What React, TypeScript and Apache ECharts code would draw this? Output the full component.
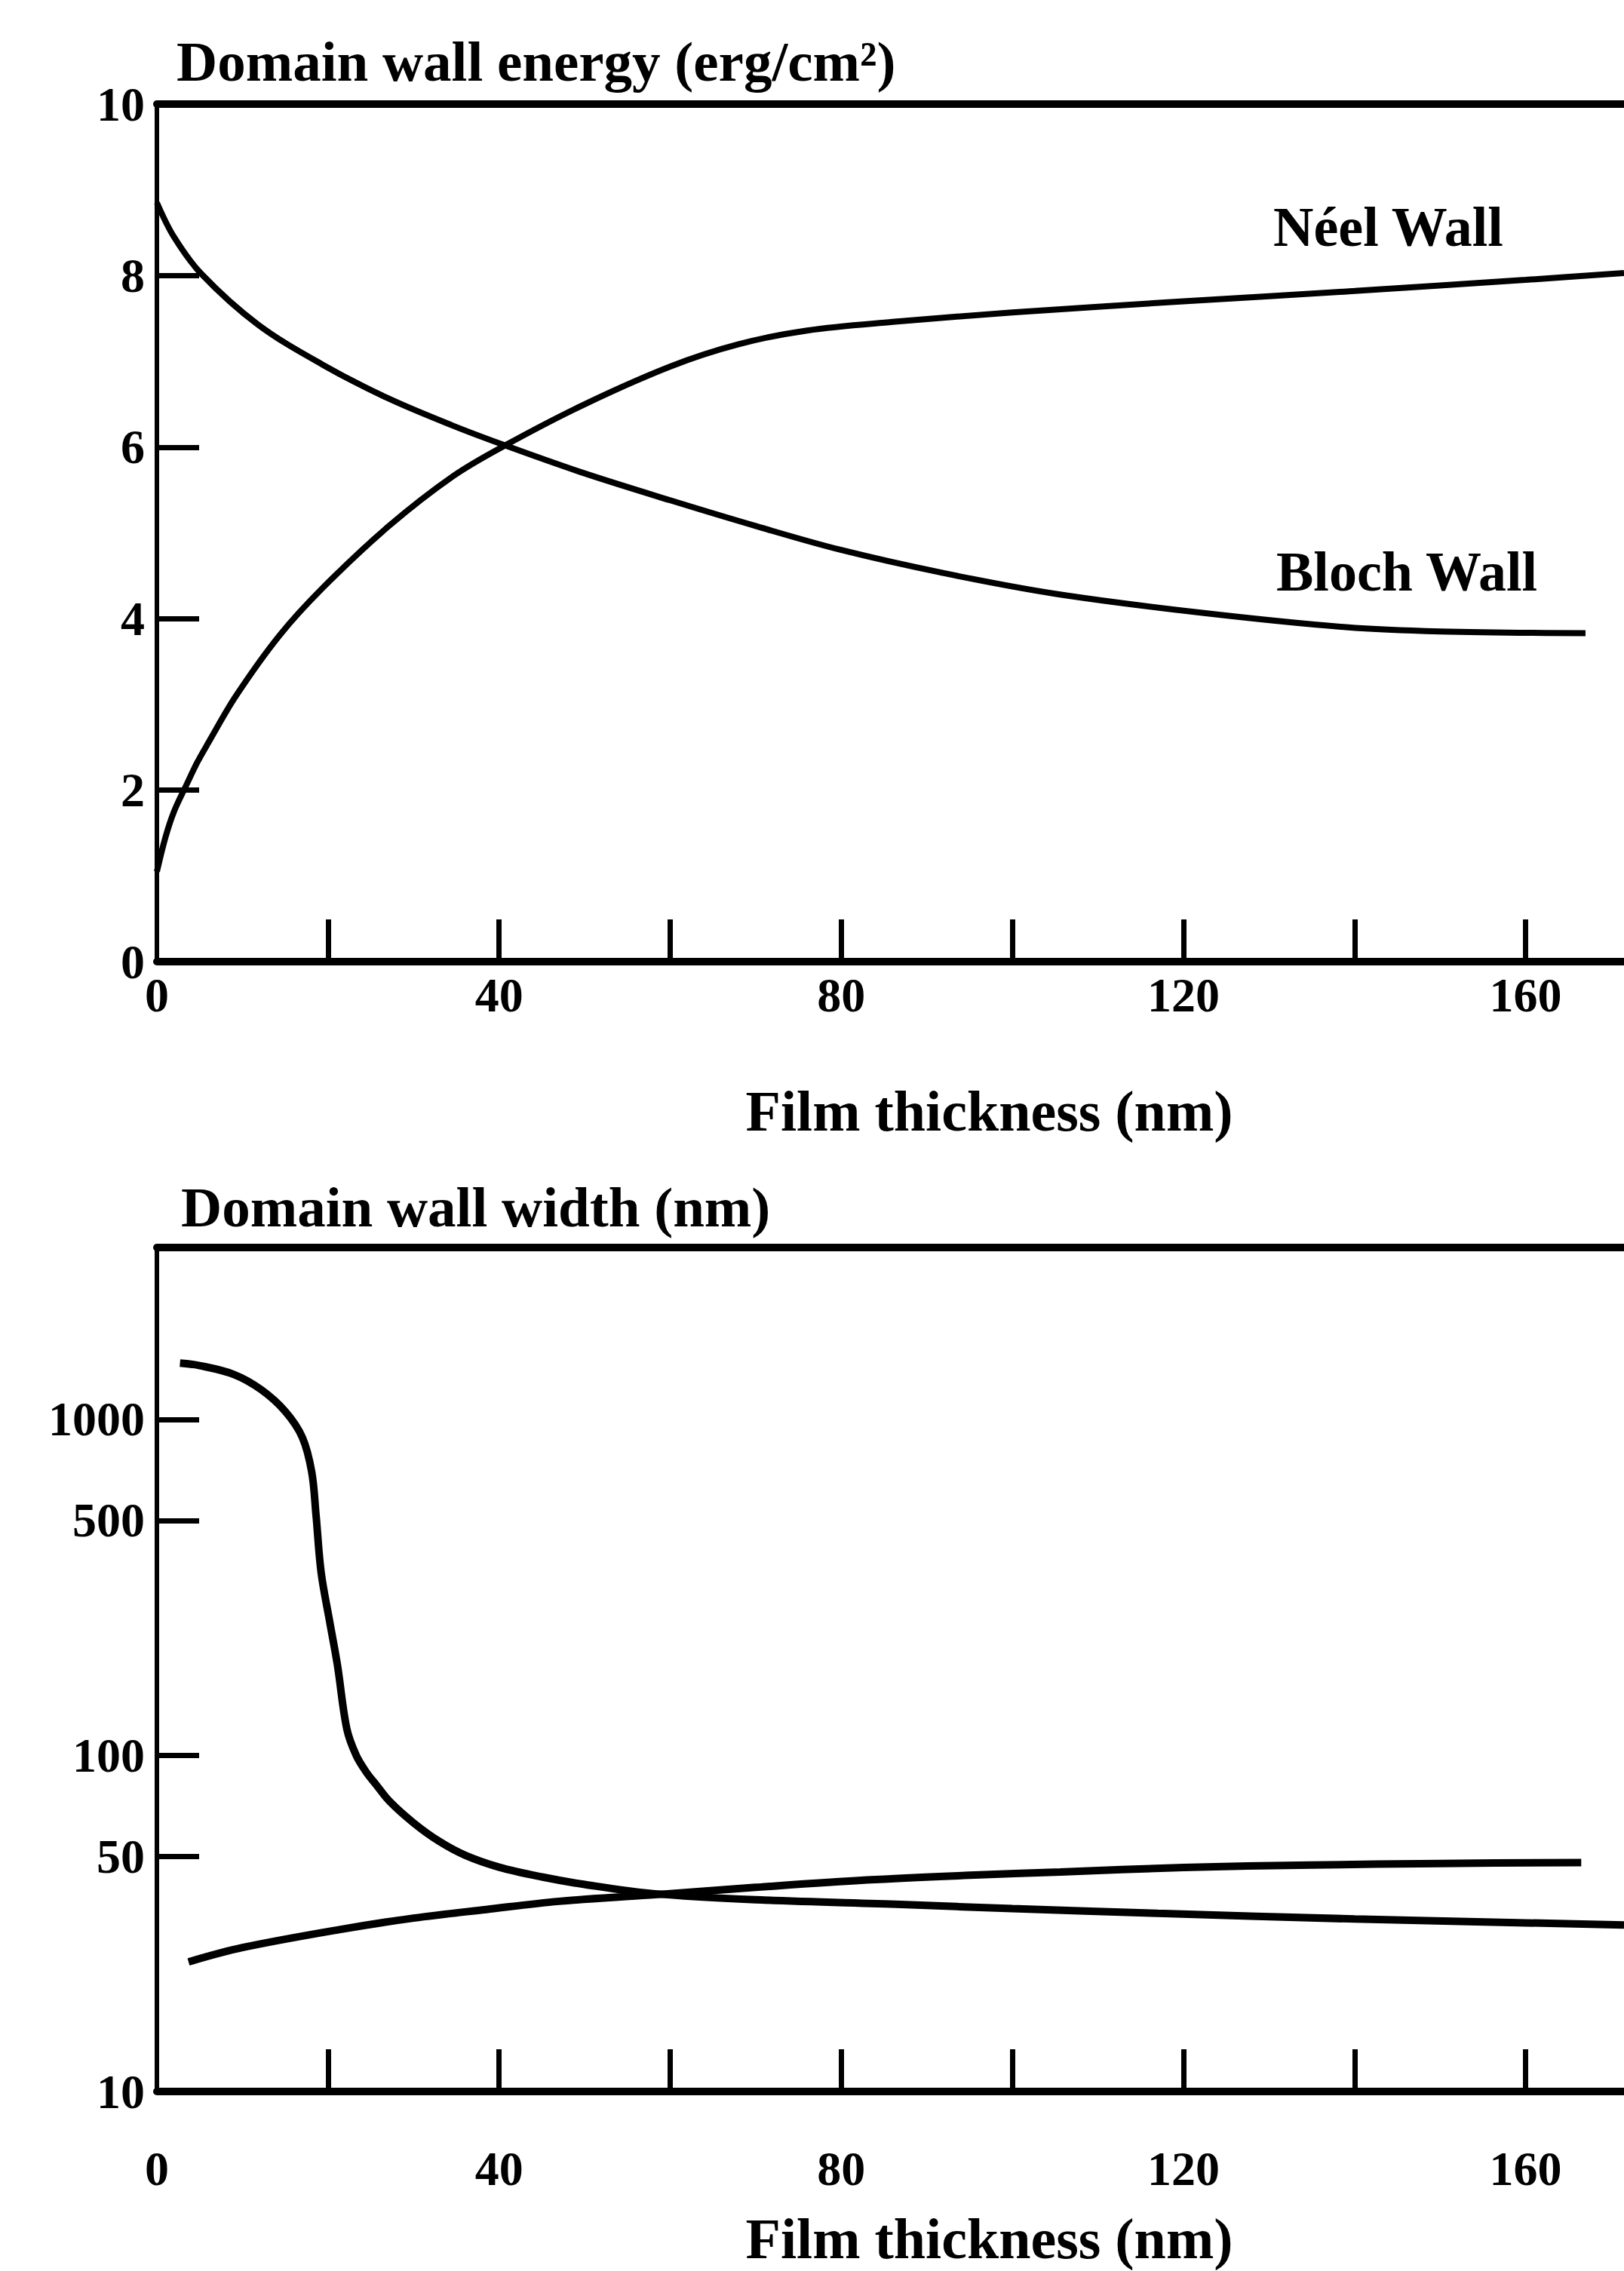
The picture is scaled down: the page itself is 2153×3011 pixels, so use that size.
import React, { useEffect, useRef } from "react";
import * as echarts from "echarts";

const W = 2153;
const H = 3011;
const FONT = '"Liberation Serif", "Times New Roman", serif';

// ---- shared x axis (film thickness, nm) ----
const thicknessMax = 171.5;
const thicknessLabels = [0, 40, 80, 120, 160];
const thicknessTicks = [20, 40, 60, 80, 100, 120, 140, 160];

// ---- top chart: domain wall energy (erg/cm²) ----
const energyLabels = [0, 2, 4, 6, 8, 10];
const energyTicks = [2, 4, 6, 8];
const neelEnergy: [number, number][] = [
  [0, 1.05], [1, 1.45], [2, 1.75], [3.4, 2.05], [4.7, 2.32], [6, 2.55], [9.25, 3.1],
  [14.3, 3.8], [19.4, 4.36], [27, 5.07], [34.6, 5.66], [40.7, 6.02], [49.8, 6.49],
  [60, 6.94], [68, 7.2], [76, 7.36], [86, 7.46], [100, 7.57], [120, 7.7], [140, 7.82],
  [160, 7.95], [171.5, 8.03],
];
const blochEnergy: [number, number][] = [
  [0, 8.85], [2, 8.45], [5.2, 8.02], [11.8, 7.43], [19.4, 6.96], [27, 6.57], [34.6, 6.25],
  [40.7, 6.02], [49.8, 5.7], [60, 5.38], [70, 5.08], [80, 4.8], [92, 4.53], [105, 4.29],
  [122, 4.07], [139, 3.9], [150, 3.85], [167, 3.83],
];

// ---- bottom chart: domain wall width (nm), log scale ----
const widthMin = 10;
const widthMax = 3245;
const widthLabels = [10, 50, 100, 500, 1000];
const widthTicks = [50, 100, 500, 1000];
const blochWidth: [number, number][] = [
  [2.7, 1470], [5, 1445], [9, 1360], [12.2, 1225], [15, 1056], [17, 884], [18.1, 697],
  [18.6, 520], [19.2, 350], [20.2, 250], [21.1, 186], [22.2, 120], [23.3, 100], [24.5, 89],
  [25.6, 82], [27.2, 73], [30, 63], [33, 55.5], [36, 50.5], [40, 46.5], [45, 43.5],
  [50, 41.3], [58, 38.8], [70, 37.2], [87, 36], [100, 35], [117, 33.9], [140, 32.6],
  [171.5, 31.3],
];
const neelWidth: [number, number][] = [
  [3.7, 24.3], [10, 26.8], [21.6, 30.4], [30, 32.8], [38.5, 34.8], [47, 36.8], [57.6, 38.4],
  [70, 40.5], [83, 42.6], [95, 44], [105.6, 45], [120, 46.4], [135, 47.2], [150, 47.7],
  [166.5, 48],
];

export default function App() {
  const ref = useRef<HTMLDivElement>(null);

  useEffect(() => {
    document.body.style.margin = "0";
    const chart = echarts.init(ref.current!, null, { renderer: "svg" });

    const black = "#000";
    const tick = (values: number[]) => ({
      show: true,
      inside: true,
      length: 56,
      customValues: values,
      lineStyle: { color: black, width: 7 },
    });
    const label = (values: number[], margin: number, formatter?: (v: number) => string) => ({
      show: true,
      customValues: values,
      margin,
      color: black,
      fontFamily: FONT,
      fontSize: 64,
      fontWeight: "bold",
      formatter,
    });
    const lineOnly = (width: number) => ({
      show: true,
      lineStyle: { color: black, width },
    });

    const xBottom = (gridIndex: number, labelMargin: number, nameGap: number) => ({
      type: "value",
      gridIndex,
      position: "bottom",
      min: 0,
      max: thicknessMax,
      axisLine: lineOnly(10),
      axisTick: tick(thicknessTicks),
      axisLabel: label(thicknessLabels, labelMargin),
      splitLine: { show: false },
      name: "Film thickness (nm)",
      nameLocation: "middle",
      nameGap,
      nameTextStyle: {
        fontFamily: FONT,
        fontSize: 76,
        fontWeight: "bold",
        lineHeight: 70,
        color: black,
        padding: [0, 0, 0, 262],
      },
    });
    const xTop = (gridIndex: number) => ({
      type: "value",
      gridIndex,
      position: "top",
      min: 0,
      max: thicknessMax,
      axisLine: lineOnly(10),
      axisTick: { show: false },
      axisLabel: { show: false },
      splitLine: { show: false },
    });

    const lineSeries = (
      name: string,
      data: [number, number][],
      xAxisIndex: number,
      yAxisIndex: number,
      width: number
    ) => ({
      type: "line",
      name,
      data,
      xAxisIndex,
      yAxisIndex,
      symbol: "none",
      smooth: 0.35,
      lineStyle: { color: black, width },
      z: 3,
    });

    const textStyle = (text: string, size: number) => ({
      text,
      fontFamily: FONT,
      fontSize: size,
      fontWeight: "bold",
      fill: black,
      align: "left",
      verticalAlign: "middle",
      textAlign: "left",
      textVerticalAlign: "middle",
    });

    const option = {
      animation: false,
      backgroundColor: "#fff",
      grid: [
        { left: 208, top: 138, width: W - 208, height: 1137, outerBoundsMode: "none" },
        { left: 208, top: 1654, width: W - 208, height: 1119, outerBoundsMode: "none" },
      ],
      xAxis: [xBottom(0, 12, 163), xTop(0), xBottom(1, 70, 160), xTop(1)],
      yAxis: [
        {
          type: "value",
          gridIndex: 0,
          position: "left",
          min: 0,
          max: 10,
          axisLine: lineOnly(6),
          axisTick: tick(energyTicks),
          axisLabel: label(energyLabels, 16),
          splitLine: { show: false },
        },
        {
          type: "log",
          gridIndex: 1,
          position: "left",
          logBase: 10,
          min: widthMin,
          max: widthMax,
          axisLine: lineOnly(6),
          axisTick: { show: false },
          axisLabel: { show: false },
          splitLine: { show: false },
          minorTick: { show: false },
        },
        {
          type: "value",
          gridIndex: 1,
          position: "left",
          min: Math.log10(widthMin),
          max: Math.log10(widthMax),
          axisLine: { show: false },
          axisTick: tick(widthTicks.map((v) => Math.log10(v))),
          axisLabel: label(
            widthLabels.map((v) => Math.log10(v)),
            16,
            (v: number) => String(Math.round(Math.pow(10, v)))
          ),
          splitLine: { show: false },
        },
      ],
      series: [
        lineSeries("Néel Wall energy", neelEnergy, 0, 0, 8),
        lineSeries("Bloch Wall energy", blochEnergy, 0, 0, 8),
        lineSeries("Bloch Wall width", blochWidth, 2, 1, 10),
        lineSeries("Néel Wall width", neelWidth, 2, 1, 10),
      ],
      graphic: [
        { type: "text", x: 234, y: 81, style: textStyle("Domain wall energy (erg/cm²)", 75) },
        { type: "text", x: 240, y: 1600, style: textStyle("Domain wall width (nm)", 75) },
        { type: "text", x: 1688, y: 301, style: textStyle("Néel Wall", 74) },
        { type: "text", x: 1692, y: 758, style: textStyle("Bloch Wall", 74) },
      ],
    };

    chart.setOption(option as any);
    return () => chart.dispose();
  }, []);

  return <div ref={ref} style={{ width: W, height: H, background: "#fff" }} />;
}
